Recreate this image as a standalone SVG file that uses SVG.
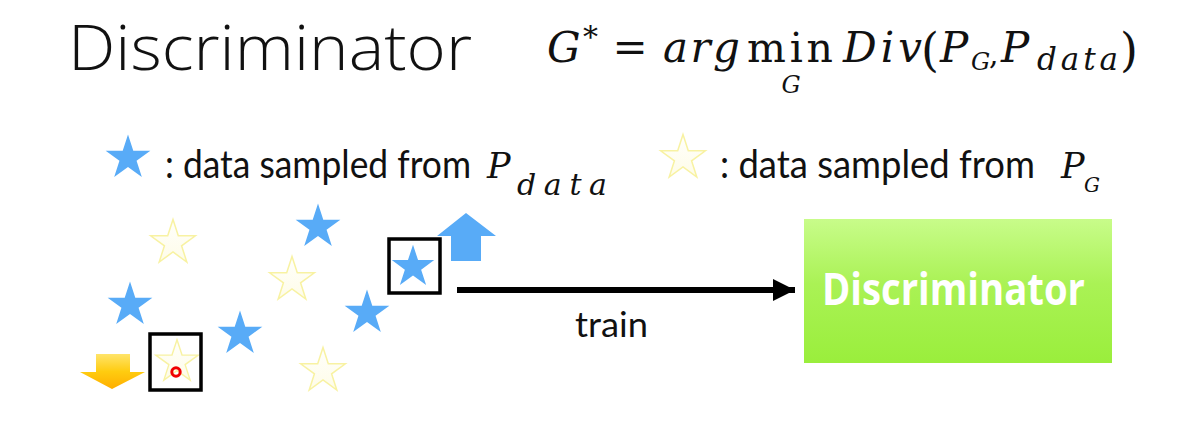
<svg xmlns="http://www.w3.org/2000/svg" xmlns:xlink="http://www.w3.org/1999/xlink" width="1188" height="429" viewBox="0 0 1188 429">
<style>
.blue{fill:#58abf7;stroke:none}
.yel{fill:url(#yg);stroke:#f8f2a2;stroke-width:1.5}
.box{fill:none;stroke:#000;stroke-width:3.5}
.math{font-family:"DejaVu Serif",serif;font-style:italic;fill:#111}
.up{font-family:"DejaVu Serif",serif;fill:#111}
.sans{font-family:Lato,"Open Sans",sans-serif;fill:#111}
</style>
<defs>
<path id="star" d="M0,-23.5 L5.29,-7.28 L22.35,-7.26 L8.56,2.78 L13.81,19.01 L0,9 L-13.81,19.01 L-8.56,2.78 L-22.35,-7.26 L-5.29,-7.28 Z"/>
<linearGradient id="yg" x1="0" y1="0" x2="0" y2="1">
<stop offset="0" stop-color="#fffffc"/><stop offset="1" stop-color="#fefce8"/>
</linearGradient>
<linearGradient id="gg" x1="0" y1="0" x2="0" y2="1">
<stop offset="0" stop-color="#c8fc8a"/><stop offset="0.45" stop-color="#aaf255"/><stop offset="1" stop-color="#9aee3c"/>
</linearGradient>
<linearGradient id="og" x1="0" y1="0" x2="0" y2="1">
<stop offset="0" stop-color="#ffe46a"/><stop offset="0.5" stop-color="#ffcc10"/><stop offset="1" stop-color="#ffae00"/>
</linearGradient>
<marker id="ah" markerUnits="userSpaceOnUse" markerWidth="24" markerHeight="22" refX="22" refY="11" orient="auto">
<path d="M0,0 L22,11 L0,22 Z" fill="#000"/>
</marker>
</defs>
<rect width="1188" height="429" fill="#fff"/>

<g id="title">
<text x="68" y="70" font-family="'Open Sans',sans-serif" font-weight="300" font-size="63" textLength="404" lengthAdjust="spacingAndGlyphs" fill="#111">Discriminator</text>
</g>

<g id="formula">
<text class="math" x="547" y="62" font-size="42">G</text>
<text class="up" x="583" y="47" font-size="30">*</text>
<text class="up" x="630" y="62" font-size="42" text-anchor="middle">=</text>
<text class="math" x="663" y="62" font-size="42" textLength="77" lengthAdjust="spacing">arg</text>
<text class="up" x="747" y="62" font-size="41" textLength="86" lengthAdjust="spacing">min</text>
<text class="math" x="791" y="93" font-size="24" text-anchor="middle">G</text>
<text class="math" x="843" y="62" font-size="42" textLength="79" lengthAdjust="spacing">Div</text>
<text class="up" x="921" y="66" font-size="46">(</text>
<text class="math" x="940" y="62" font-size="42">P</text>
<text class="math" x="971" y="70" font-size="24">G</text>
<text class="up" x="989" y="64" font-size="30">,</text>
<text class="math" x="1001" y="62" font-size="42">P</text>
<text class="math" x="1037" y="70" font-size="31" textLength="81" lengthAdjust="spacing">data</text>
<text class="up" x="1120" y="66" font-size="46">)</text>
</g>

<g id="legend">
<use xlink:href="#star" class="blue" transform="translate(128,158)"/>
<text class="sans" x="165" y="178" font-size="38" textLength="306" lengthAdjust="spacingAndGlyphs">: data sampled from</text>
<text class="math" x="487" y="178" font-size="35">P</text>
<text class="math" x="517" y="195" font-size="30" textLength="90" lengthAdjust="spacing">data</text>
<use xlink:href="#star" class="yel" transform="translate(683,158)"/>
<text class="sans" x="720" y="178" font-size="38" textLength="315" lengthAdjust="spacingAndGlyphs">: data sampled from</text>
<text class="math" x="1061" y="178" font-size="35">P</text>
<text class="math" x="1084" y="192" font-size="20">G</text>
</g>

<g id="points">
<use xlink:href="#star" class="yel" transform="translate(173,243)"/>
<use xlink:href="#star" class="yel" transform="translate(292,280)"/>
<use xlink:href="#star" class="yel" transform="translate(323,371)"/>
<use xlink:href="#star" class="blue" transform="translate(318,227)"/>
<use xlink:href="#star" class="blue" transform="translate(130,305)"/>
<use xlink:href="#star" class="blue" transform="translate(367,313)"/>
<use xlink:href="#star" class="blue" transform="translate(240,334)"/>
</g>

<g id="up-arrow">
<path d="M466,213 L496,236 L481,236 L481,261 L451,261 L451,236 L437,236 Z" fill="#58abf7"/>
</g>

<g id="real-sample">
<rect x="389" y="239" width="51" height="54" fill="#fff" stroke="none"/>
<use xlink:href="#star" class="blue" transform="translate(413,267) scale(0.95)"/>
<rect class="box" x="389" y="239" width="51" height="54"/>
</g>

<g id="down-arrow">
<path d="M96,354 L130,354 L130,372 L145,372 L112,389 L80,372 L96,372 Z" fill="url(#og)"/>
</g>

<g id="fake-sample">
<use xlink:href="#star" class="yel" transform="translate(177,362) scale(0.95)"/>
<circle cx="176" cy="372" r="4.2" fill="none" stroke="#f00000" stroke-width="3"/>
<rect class="box" x="150" y="334" width="51" height="56"/>
</g>

<g id="connectors">
<line x1="457" y1="290" x2="795" y2="290" stroke="#000" stroke-width="6" marker-end="url(#ah)"/>
<text class="sans" x="575" y="337" font-size="34" textLength="73" lengthAdjust="spacingAndGlyphs">train</text>
</g>

<g id="discriminator">
<rect x="804" y="219" width="308" height="144" fill="url(#gg)"/>
<text x="822" y="305" font-family="'Open Sans',sans-serif" font-weight="700" font-size="44" textLength="263" lengthAdjust="spacingAndGlyphs" fill="#fff">Discriminator</text>
</g>
</svg>
